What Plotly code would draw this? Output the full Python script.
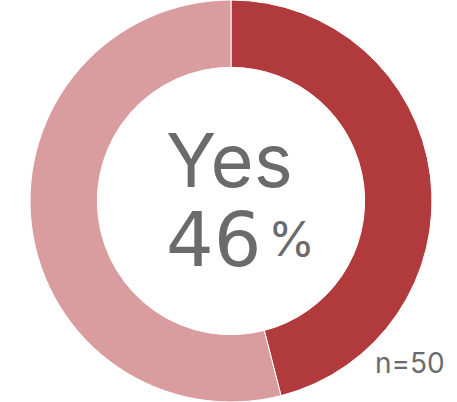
import plotly.graph_objects as go

labels = ["Yes", "No"]
values = [46, 54]
colors = ["#B03A3C", "#D99DA0"]
center_label = "Yes"
center_value = "46"
n_label = "n=50"

W, H = 457, 402
cx = 231
r = 201
fig = go.Figure(go.Pie(
    labels=labels, values=values, hole=0.665, sort=False, direction="clockwise",
    rotation=0, marker=dict(colors=colors, line=dict(color="white", width=1)),
    textinfo="none", hoverinfo="label+percent", showlegend=False,
    domain=dict(x=[(cx - r) / W, (cx + r) / W], y=[0.0, 1.0]),
))

font = "Inter, Lato, sans-serif"
gray = "#6B6B6D"
fig.update_layout(
    width=W, height=H, margin=dict(l=0, r=0, t=0, b=0),
    paper_bgcolor="white", plot_bgcolor="white",
    annotations=[
        dict(text=center_label, x=229 / W, y=1 - 160 / H, xref="paper", yref="paper",
             showarrow=False, font=dict(family=font, size=74, color=gray)),
        dict(text=center_value, x=213 / W, y=1 - 240 / H, xref="paper", yref="paper",
             showarrow=False, font=dict(family="DejaVu Sans", size=75, color=gray)),
        dict(text="%", x=291 / W, y=1 - 238 / H, xref="paper", yref="paper",
             showarrow=False, font=dict(family=font, size=48, color=gray)),
        dict(text=n_label, x=447 / W, y=1 - 382 / H, xref="paper", yref="paper",
             xanchor="right", showarrow=False, font=dict(family=font, size=28, color=gray)),
    ],
)
fig.write_html("out.html")
